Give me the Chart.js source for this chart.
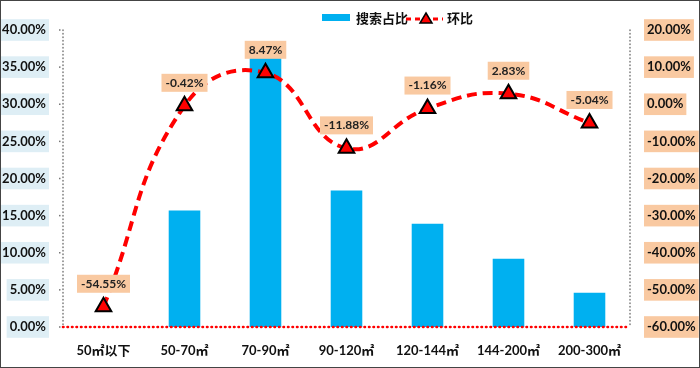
<!DOCTYPE html>
<html>
<head>
<meta charset="utf-8">
<script src="https://cdn.jsdelivr.net/npm/chart.js@4/dist/chart.umd.min.js"></script>
<style>
  html, body { margin: 0; padding: 0; background: #fff; }
  #wrap { width: 698px; height: 366px; border: 1px solid #444; position: relative; }
</style>
</head>
<body>
<div id="wrap"><canvas id="chart" width="698" height="366"></canvas></div>
<script>
const categories = ['50㎡以下', '50-70㎡', '70-90㎡', '90-120㎡', '120-144㎡', '144-200㎡', '200-300㎡'];
const searchShare = [0, 15.7, 38.1, 18.4, 13.9, 9.2, 4.6];
const momChange = [-54.55, -0.42, 8.47, -11.88, -1.16, 2.83, -5.04];
const leftTicks = [0, 5, 10, 15, 20, 25, 30, 35, 40];
const rightTicks = [-60, -50, -40, -30, -20, -10, 0, 10, 20];

const FONT = "Lato, 'Noto Sans CJK SC', sans-serif";
const PEACH = '#F9C9A1';

// dotted axis lines (gray left/right, red along the bottom)
const axisLines = {
  id: 'axisLines',
  afterDatasetsDraw(chart) {
    const ctx = chart.ctx;
    const a = chart.chartArea;
    ctx.save();
    ctx.lineCap = 'round';
    ctx.strokeStyle = '#777';
    ctx.lineWidth = 1.5;
    ctx.setLineDash([0.5, 3]);
    [a.left, a.right].forEach(x => {
      ctx.beginPath();
      ctx.moveTo(x, a.top);
      ctx.lineTo(x, a.bottom);
      ctx.stroke();
    });
    // tiny tick dots on the left axis
    ctx.fillStyle = '#777';
    chart.scales.y.ticks.forEach(t => {
      const y = chart.scales.y.getPixelForValue(t.value);
      ctx.fillRect(a.left - 4, y - 0.75, 1.5, 1.5);
    });
    ctx.strokeStyle = '#FF0000';
    ctx.lineWidth = 2.6;
    ctx.setLineDash([0.5, 4]);
    ctx.beginPath();
    ctx.moveTo(a.left, a.bottom);
    ctx.lineTo(a.right, a.bottom);
    ctx.stroke();
    ctx.restore();
  }
};

// labels above the line points, with peach box
const pointLabels = {
  id: 'pointLabels',
  afterDatasetsDraw(chart) {
    const ctx = chart.ctx;
    const meta = chart.getDatasetMeta(1);
    ctx.save();
    ctx.font = 'bold 12px ' + FONT;
    ctx.textAlign = 'center';
    ctx.textBaseline = 'middle';
    meta.data.forEach((pt, i) => {
      const txt = momChange[i].toFixed(2) + '%';
      const w = ctx.measureText(txt).width + 8;
      const x = pt.x, y = pt.y - 23;
      ctx.fillStyle = PEACH;
      ctx.fillRect(x - w / 2, y - 9, w, 18);
      ctx.fillStyle = '#222';
      ctx.fillText(txt, x, y);
    });
    ctx.restore();
  }
};

// legend at top
const topLegend = {
  id: 'topLegend',
  afterDraw(chart) {
    const ctx = chart.ctx;
    ctx.save();
    ctx.fillStyle = '#00B0F0';
    ctx.fillRect(321, 13, 28, 7);
    ctx.font = 'bold 13px ' + FONT;
    ctx.textBaseline = 'middle';
    ctx.fillStyle = '#111';
    ctx.fillText('搜索占比', 355, 18);
    ctx.strokeStyle = '#FF0000';
    ctx.lineWidth = 3;
    ctx.setLineDash([5, 4]);
    ctx.beginPath();
    ctx.moveTo(405, 18);
    ctx.lineTo(442, 18);
    ctx.stroke();
    ctx.setLineDash([]);
    ctx.fillStyle = '#FF0000';
    ctx.strokeStyle = '#000';
    ctx.lineWidth = 1.5;
    ctx.beginPath();
    ctx.moveTo(425, 12);
    ctx.lineTo(431, 22);
    ctx.lineTo(419, 22);
    ctx.closePath();
    ctx.fill();
    ctx.stroke();
    ctx.fillStyle = '#111';
    ctx.fillText('环比', 446, 18);
    ctx.restore();
  }
};

new Chart(document.getElementById('chart').getContext('2d'), {
  type: 'bar',
  data: {
    labels: categories,
    datasets: [{
      type: 'bar',
      label: '搜索占比',
      data: searchShare,
      backgroundColor: '#00B0F0',
      yAxisID: 'y',
      categoryPercentage: 1,
      barPercentage: 0.39,
      order: 2
    }, {
      type: 'line',
      label: '环比',
      data: momChange,
      yAxisID: 'y1',
      borderColor: '#FF0000',
      borderWidth: 4,
      borderDash: [10, 6],
      tension: 0.45,
      pointStyle: 'triangle',
      pointRadius: 9,
      pointBackgroundColor: '#FF0000',
      pointBorderColor: '#000',
      pointBorderWidth: 2,
      clip: false,
      order: 1
    }]
  },
  options: {
    responsive: false,
    animation: false,
    layout: { padding: { top: 29, left: 0, right: 0, bottom: 0 } },
    plugins: {
      legend: { display: false },
      tooltip: { enabled: false }
    },
    scales: {
      x: {
        grid: { display: false },
        border: { display: false },
        ticks: { color: '#111', font: { family: FONT, size: 13, weight: 'bold' }, padding: 8 },
        afterFit(s) { s.height = 40; }
      },
      y: {
        position: 'left',
        min: 0, max: 40,
        afterBuildTicks(s) { s.ticks = leftTicks.map(v => ({ value: v })); },
        grid: { display: false },
        border: { display: false },
        ticks: {
          color: '#111',
          font: { family: FONT, size: 13, weight: 'bold' },
          padding: 9,
          showLabelBackdrop: true,
          backdropColor: '#DEEEF5',
          backdropPadding: { x: 3, y: 3 },
          callback: v => v.toFixed(2) + '%'
        },
        afterFit(s) { s.width = 62; }
      },
      y1: {
        position: 'right',
        min: -60, max: 20,
        afterBuildTicks(s) { s.ticks = rightTicks.map(v => ({ value: v })); },
        grid: { display: false },
        border: { display: false },
        ticks: {
          color: '#111',
          font: { family: FONT, size: 13, weight: 'bold' },
          padding: 9,
          showLabelBackdrop: true,
          backdropColor: PEACH,
          backdropPadding: { x: 3, y: 3 },
          callback: v => v.toFixed(2) + '%'
        },
        afterFit(s) { s.width = 69; }
      }
    }
  },
  plugins: [axisLines, pointLabels, topLegend]
});
</script>
</body>
</html>
